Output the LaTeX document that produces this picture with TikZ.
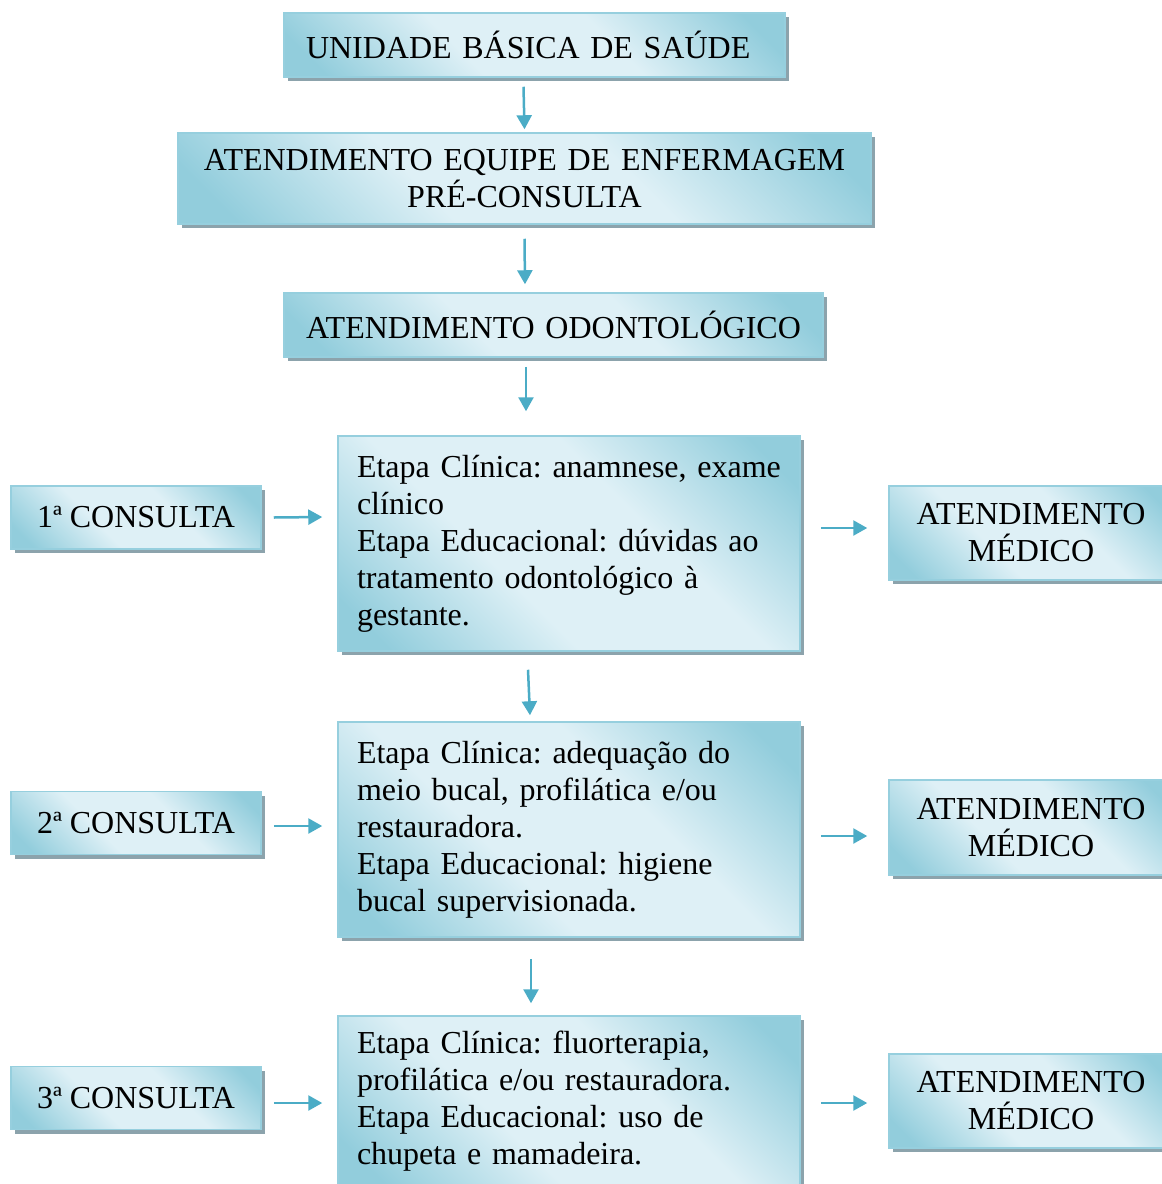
\documentclass[tikz,border=0pt]{standalone}
\usepackage{fontspec}
\setmainfont{Liberation Serif}
\usepackage{tikz}
\usetikzlibrary{shadows,calc,arrows.meta}
\definecolor{claro}{RGB}{222,240,246}
\definecolor{escuro}{RGB}{146,205,220}
\definecolor{borda}{RGB}{150,207,222}
\definecolor{sombra}{RGB}{140,163,172}
\definecolor{seta}{RGB}{75,172,198}
\pgfdeclarehorizontalshading{azulcaixa}{100bp}{color(0bp)=(escuro); color(20bp)=(escuro);
  color(40bp)=(claro); color(60bp)=(claro); color(80bp)=(escuro); color(100bp)=(escuro)}
\newcommand{\fontecaixa}{\fontsize{32}{37}\selectfont\frenchspacing\hyphenpenalty 10000\relax}
\tikzset{
  caixa/.style={draw=borda, line width=1.5pt, shading=azulcaixa, shading angle=45,
    drop shadow={shadow xshift=4pt, shadow yshift=-4pt, fill=sombra, opacity=1},
    font=\fontecaixa, inner ysep=0pt},
  flecha/.style={draw=seta, line width=2.5pt, -{Triangle[length=14pt,width=15pt]}}
}

\begin{document}
\begin{tikzpicture}[x=1pt,y=-1pt]
    \useasboundingbox (0,0) rectangle (1162,1184);
    % Coluna central
    \node[caixa, text width=457pt, inner xsep=22pt, minimum height=64pt, align=left] (ubs) at (534.5,45) {UNIDADE BÁSICA DE SAÚDE};
    \node[caixa, text width=653pt, inner xsep=20pt, minimum height=91pt, align=center] (enf) at (524.5,178.5) {ATENDIMENTO EQUIPE DE ENFERMAGEM\\PRÉ-CONSULTA};
    \node[caixa, text width=499pt, inner xsep=20pt, minimum height=64pt, align=center] (odonto) at (553.5,325) {ATENDIMENTO ODONTOLÓGICO};
    \node[caixa, text width=424pt, inner xsep=19pt, minimum height=215pt, align=left] (et1) at (569,543.5) {Etapa Clínica: anamnese, exame\\clínico\\Etapa Educacional: dúvidas ao\\tratamento odontológico à\\gestante.};
    \node[caixa, text width=424pt, inner xsep=19pt, minimum height=215pt, align=left] (et2) at (569,829.5) {Etapa Clínica: adequação do\\meio bucal, profilática e/ou\\restauradora.\\Etapa Educacional: higiene\\bucal supervisionada.};
    \node[caixa, text width=424pt, inner xsep=19pt, minimum height=171pt, align=left] (et3) at (569,1101.5) {Etapa Clínica: fluorterapia,\\profilática e/ou restauradora.\\Etapa Educacional: uso de\\chupeta e mamadeira.};
    % Consultas
    \node[caixa, minimum width=250pt, minimum height=63pt] (c1) at (136,517.5) {1ª CONSULTA};
    \node[caixa, minimum width=250pt, minimum height=63pt] (c2) at (136,823) {2ª CONSULTA};
    \node[caixa, minimum width=250pt, minimum height=63pt] (c3) at (136,1098) {3ª CONSULTA};
    % Atendimento medico
    \node[caixa, text width=260pt, inner xsep=12pt, minimum height=94pt, align=center] (med1) at (1031,533) {ATENDIMENTO\\MÉDICO};
    \node[caixa, text width=260pt, inner xsep=12pt, minimum height=95pt, align=center] (med2) at (1031,827.5) {ATENDIMENTO\\MÉDICO};
    \node[caixa, text width=260pt, inner xsep=12pt, minimum height=94pt, align=center] (med3) at (1031,1101) {ATENDIMENTO\\MÉDICO};
    % Setas verticais
    \draw[flecha] ($(ubs.south)+(-11,9)$) -- ($(enf.north)+(0,-3)$);
    \draw[flecha] ($(enf.south)+(0,14)$) -- ($(odonto.north)+(-28.5,-8)$);
    \draw[flecha] ($(odonto.south)+(-27.5,9)$) -- ($(et1.north)+(-43,-24)$);
    \draw[flecha] ($(et1.south)+(-41,18)$) -- ($(et2.north)+(-39,-6)$);
    \draw[flecha] ($(et2.south)+(-38,21)$) -- ($(et3.north)+(-38,-12)$);
    % Setas horizontais
    \draw[flecha] ($(c1.east)+(12,0)$) -- ($(et1.west)+(-15,-26.5)$);
    \draw[flecha] ($(et1.east)+(20,-15.5)$) -- ($(med1.west)+(-21,-5)$);
    \draw[flecha] ($(c2.east)+(12,3)$) -- ($(et2.west)+(-15,-3.5)$);
    \draw[flecha] ($(et2.east)+(20,6.5)$) -- ($(med2.west)+(-21,8.5)$);
    \draw[flecha] ($(c3.east)+(12,5)$) -- ($(et3.west)+(-15,1.5)$);
    \draw[flecha] ($(et3.east)+(20,1.5)$) -- ($(med3.west)+(-21,2)$);
\end{tikzpicture}
\end{document}
